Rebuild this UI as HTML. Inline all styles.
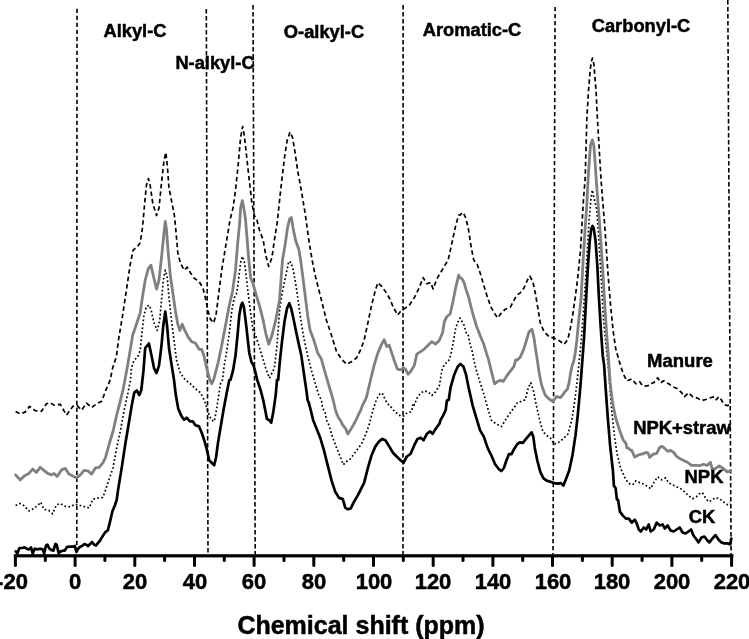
<!DOCTYPE html><html><head><meta charset="utf-8"><style>
html,body{margin:0;padding:0;background:#fff}
body{width:749px;height:639px;position:relative;overflow:hidden;font-family:"Liberation Sans",sans-serif;font-weight:bold;color:#000}
.t{position:absolute;white-space:nowrap;line-height:1;will-change:transform;-webkit-text-stroke:0.5px #000}
</style></head><body>
<svg width="749" height="639" viewBox="0 0 749 639" style="position:absolute;left:0;top:0">
<line x1="77.0" y1="8.7" x2="76.8" y2="554" stroke="#000" stroke-width="1.6" stroke-dasharray="4.4 2.6"/>
<line x1="206.3" y1="9.1" x2="208.0" y2="554" stroke="#000" stroke-width="1.6" stroke-dasharray="4.4 2.6"/>
<line x1="253.0" y1="5.1" x2="255.2" y2="554" stroke="#000" stroke-width="1.6" stroke-dasharray="4.4 2.6"/>
<line x1="403.1" y1="5.1" x2="403.0" y2="554" stroke="#000" stroke-width="1.6" stroke-dasharray="4.4 2.6"/>
<line x1="555.1" y1="6.9" x2="553.0" y2="554" stroke="#000" stroke-width="1.6" stroke-dasharray="4.4 2.6"/>
<line x1="727.8" y1="0.0" x2="731.1" y2="554" stroke="#000" stroke-width="1.6" stroke-dasharray="4.4 2.6"/>
<path d="M15.6 411.4 L20.1 413.9 L25.1 412.1 L29.6 406.4 L35.1 410.6 L41.4 411.4 L46.4 403.8 L50.2 402.6 L54.0 405.1 L60.2 404.3 L66.5 415.1 L72.8 406.4 L76.6 405.1 L81.6 410.1 L86.6 403.1 L91.6 407.6 L96.6 403.8 L101.7 401.3 L105.4 391.3 L110.2 379.9 L112.6 368.1 L116.3 356.8 L118.8 338.0 L122.6 315.4 L126.4 290.3 L130.1 265.2 L133.1 250.1 L137.7 246.4 L140.2 242.6 L142.2 230.0 L143.2 219.9 L144.7 203.1 L146.4 185.5 L148.4 178.5 L150.2 185.5 L152.7 203.1 L156.5 215.6 L159.0 208.1 L161.5 183.0 L164.0 160.4 L165.8 152.4 L167.3 165.4 L169.0 188.0 L171.5 200.6 L174.4 215.3 L175.6 227.5 L177.8 252.6 L180.3 262.7 L184.1 270.2 L187.3 267.2 L190.4 272.7 L194.1 278.2 L199.1 281.5 L202.9 287.8 L205.4 297.8 L207.9 310.4 L210.4 319.1 L213.5 322.9 L216.0 315.4 L218.5 295.3 L221.7 270.2 L225.0 250.1 L228.0 232.6 L230.0 219.9 L233.0 208.1 L235.5 190.5 L238.1 165.4 L240.6 137.8 L242.6 126.5 L244.3 135.3 L246.8 157.9 L249.3 180.5 L251.9 203.1 L254.4 215.6 L256.9 219.9 L259.4 230.0 L263.2 240.1 L265.7 255.1 L268.7 266.4 L271.9 257.7 L274.4 240.1 L277.4 221.2 L279.8 198.0 L282.2 176.7 L284.8 155.3 L287.2 140.2 L290.0 132.1 L292.6 137.7 L295.1 152.7 L297.6 170.3 L301.3 190.4 L305.1 213.0 L308.9 240.6 L312.1 259.9 L315.1 275.1 L318.9 290.1 L322.7 305.2 L326.4 320.2 L331.5 335.3 L336.5 351.6 L341.5 359.1 L346.5 364.2 L351.5 361.7 L356.6 357.9 L360.3 350.4 L364.1 340.3 L367.9 322.8 L371.6 305.2 L375.4 290.1 L377.9 282.6 L381.7 286.4 L385.4 291.4 L389.2 297.7 L393.0 306.4 L397.5 315.2 L400.5 311.5 L404.2 308.9 L409.3 305.2 L414.3 297.7 L419.3 287.6 L423.1 277.6 L426.8 283.8 L430.6 282.6 L433.1 288.9 L436.9 278.8 L440.6 272.6 L444.4 266.3 L448.2 259.9 L451.9 243.1 L455.7 225.5 L458.7 215.0 L460.0 215.1 L462.7 212.4 L463.8 213.8 L466.0 218.4 L468.4 229.1 L471.3 247.7 L473.8 260.2 L477.1 264.0 L480.1 272.8 L483.8 285.3 L487.6 297.9 L491.4 307.9 L495.1 314.2 L497.7 318.0 L501.4 313.0 L505.2 309.2 L510.2 307.4 L514.0 300.4 L516.5 295.4 L520.2 292.9 L524.0 287.9 L527.3 280.3 L529.8 276.1 L532.8 281.6 L535.3 292.9 L537.8 307.9 L540.3 323.0 L544.1 331.8 L549.1 336.8 L554.1 338.1 L559.1 340.6 L564.2 344.3 L567.9 339.3 L570.4 328.0 L573.0 313.0 L575.5 295.4 L578.0 275.3 L580.5 250.2 L583.4 200.3 L585.2 177.7 L586.8 120.3 L588.5 90.2 L590.5 67.6 L591.5 61.3 L592.5 58.1 L593.9 64.4 L596.0 90.2 L597.5 120.3 L599.3 150.4 L601.1 180.6 L602.6 199.9 L604.3 220.1 L606.1 245.2 L608.1 275.3 L610.6 305.4 L613.1 330.5 L615.6 348.1 L619.1 360.9 L623.0 373.2 L626.9 381.0 L631.8 378.9 L635.8 383.8 L637.0 382.7 L639.8 381.8 L642.0 385.2 L644.8 386.2 L648.0 385.7 L649.7 383.8 L653.7 382.8 L657.7 377.8 L660.7 382.8 L663.7 380.8 L668.6 383.8 L672.6 386.7 L677.6 388.7 L681.6 392.7 L684.5 396.7 L688.5 392.7 L692.5 396.7 L697.5 398.1 L701.5 400.7 L706.4 399.3 L710.4 397.7 L714.4 396.7 L716.4 399.7 L718.8 396.7 L721.3 399.7 L724.3 404.7 L727.3 405.6 L730.3 404.7" fill="none" stroke="#000" stroke-width="1.7" stroke-dasharray="4.5 3" stroke-linejoin="round"/>
<path d="M15.6 505.5 L20.1 503.5 L23.8 505.5 L28.9 511.0 L33.9 508.5 L37.7 505.5 L40.7 502.2 L43.9 509.3 L48.9 510.5 L52.7 513.8 L56.5 504.7 L60.2 503.7 L65.3 506.3 L70.3 506.8 L75.3 504.2 L80.3 505.5 L85.3 506.8 L89.1 508.0 L92.9 499.2 L97.9 498.0 L102.9 497.5 L105.4 490.4 L109.2 479.1 L113.0 467.9 L116.7 447.8 L120.5 430.2 L124.2 410.1 L128.0 392.6 L130.5 380.0 L131.4 368.1 L133.9 360.6 L137.7 356.8 L140.2 350.5 L142.2 330.4 L143.9 315.4 L146.4 306.6 L149.4 305.3 L151.5 311.6 L154.0 322.9 L157.2 330.4 L159.7 320.4 L161.5 300.3 L163.3 280.2 L165.3 270.2 L167.3 277.7 L169.0 297.8 L171.5 320.4 L174.0 340.5 L176.6 360.6 L180.3 373.1 L185.3 379.9 L190.4 383.8 L195.4 388.8 L200.4 392.6 L204.2 400.1 L206.7 407.6 L209.2 415.1 L211.7 420.2 L214.2 421.4 L216.0 412.6 L218.0 400.1 L220.5 383.7 L222.5 380.0 L224.2 365.6 L226.8 350.5 L229.3 333.0 L231.8 310.4 L234.3 297.8 L236.8 292.8 L238.8 277.7 L240.6 262.7 L242.6 256.4 L244.3 261.4 L246.1 275.2 L248.1 292.8 L250.6 312.9 L253.1 330.4 L255.6 335.5 L258.1 343.0 L261.9 355.5 L265.7 368.1 L269.4 378.1 L274.4 368.1 L277.0 345.5 L279.8 307.8 L282.2 292.7 L285.4 277.6 L288.8 261.3 L291.3 262.5 L293.8 272.6 L296.3 287.6 L298.8 305.2 L301.3 322.8 L303.8 337.8 L307.6 355.4 L311.4 370.4 L315.1 383.0 L318.9 395.5 L321.4 400.0 L322.7 408.1 L325.2 412.6 L326.4 419.9 L328.9 425.1 L332.7 437.7 L336.5 447.7 L340.2 456.5 L343.3 464.8 L346.5 461.5 L350.3 459.0 L354.0 454.0 L357.8 448.9 L361.6 443.9 L365.3 435.1 L369.1 425.1 L370.4 419.9 L372.9 410.4 L376.6 399.1 L380.4 393.0 L382.9 394.3 L385.4 400.3 L389.2 405.6 L390.4 406.3 L393.0 409.3 L395.5 412.6 L396.7 413.1 L400.5 416.0 L403.9 416.0 L406.8 413.1 L408.0 412.6 L410.5 411.9 L411.8 411.3 L413.0 403.1 L414.3 405.0 L416.8 398.4 L420.6 393.0 L424.3 391.0 L428.1 391.8 L431.9 395.5 L435.6 391.8 L439.4 385.5 L441.9 370.4 L444.4 364.2 L448.2 361.7 L450.7 355.4 L453.2 342.8 L455.7 327.8 L458.7 320.2 L460.0 318.0 L462.0 321.5 L464.1 325.4 L466.3 333.0 L468.0 334.0 L470.0 344.1 L472.6 352.6 L473.8 359.9 L476.3 370.1 L480.1 382.7 L483.8 394.0 L487.6 407.8 L491.4 420.3 L496.4 424.1 L501.4 426.6 L505.2 420.3 L510.2 412.8 L514.0 407.8 L517.7 402.2 L521.5 401.5 L525.3 399.7 L528.3 387.7 L530.8 382.7 L533.3 390.2 L535.8 402.8 L539.1 417.8 L542.8 431.6 L546.6 435.4 L550.4 437.9 L554.1 444.2 L557.9 442.9 L562.9 439.1 L567.9 434.1 L571.7 420.3 L574.2 405.3 L576.7 385.2 L579.2 361.2 L581.5 337.8 L583.5 310.4 L585.5 280.3 L587.3 250.2 L588.8 225.1 L590.8 200.3 L592.3 190.1 L593.5 195.6 L596.8 210.0 L598.6 235.1 L600.1 260.2 L601.8 290.4 L603.6 320.5 L606.0 345.3 L608.1 365.1 L610.1 390.2 L611.9 412.8 L614.4 435.4 L616.9 453.0 L620.6 468.0 L624.4 476.8 L628.2 483.1 L631.8 484.8 L633.2 484.3 L635.8 480.8 L638.2 481.8 L639.8 482.8 L643.5 484.0 L647.9 486.6 L650.7 488.7 L653.7 482.8 L657.7 476.8 L661.7 479.8 L665.6 477.8 L668.6 482.8 L672.6 484.8 L676.6 486.7 L680.6 488.7 L684.5 491.7 L688.5 495.7 L692.5 498.7 L696.5 496.7 L699.5 493.7 L702.4 492.7 L705.4 497.7 L708.4 501.7 L711.4 500.7 L715.4 497.7 L719.4 498.7 L723.3 501.7 L727.3 504.7 L730.3 502.7" fill="none" stroke="#000" stroke-width="1.7" stroke-dasharray="1.7 2.3" stroke-linejoin="round"/>
<path d="M15.6 474.9 L20.1 479.9 L25.1 475.4 L28.9 473.4 L32.6 469.1 L36.4 472.4 L40.2 467.3 L43.9 470.4 L47.7 473.4 L51.5 474.9 L54.0 473.4 L57.2 476.6 L61.5 469.9 L65.3 468.4 L69.0 474.1 L72.8 475.9 L76.6 477.9 L80.3 474.9 L84.1 470.4 L87.9 470.9 L91.6 474.1 L95.4 467.9 L99.1 467.3 L102.9 462.8 L105.4 457.8 L109.2 444.0 L113.0 431.5 L116.7 415.1 L120.5 400.1 L123.0 390.0 L124.9 379.9 L127.6 365.6 L130.1 350.5 L132.6 335.5 L136.4 324.2 L140.2 312.9 L142.7 295.3 L145.2 280.2 L148.2 268.9 L151.0 265.2 L153.2 275.2 L156.5 289.0 L159.0 280.2 L161.5 257.7 L164.0 232.6 L165.3 221.3 L166.5 230.0 L167.8 247.6 L170.3 275.2 L172.8 292.8 L175.3 310.4 L177.8 324.2 L179.8 330.4 L182.3 324.2 L184.8 330.4 L187.9 336.7 L191.6 341.7 L195.4 343.0 L199.1 349.3 L201.7 349.3 L204.2 356.8 L206.7 368.1 L209.6 379.1 L211.7 383.8 L213.8 379.1 L218.0 363.1 L221.7 345.5 L225.5 325.4 L229.3 305.3 L232.5 291.5 L235.5 270.2 L237.5 245.1 L239.7 222.5 L240.6 208.1 L242.3 200.6 L243.8 208.1 L245.6 220.0 L246.8 235.1 L248.6 257.7 L250.6 277.7 L253.1 284.0 L255.6 292.8 L259.4 305.3 L263.2 320.4 L265.7 333.0 L268.7 344.2 L271.9 335.5 L275.7 320.4 L279.5 300.3 L282.5 259.9 L285.0 245.6 L287.5 228.0 L289.5 219.2 L291.3 217.5 L293.1 228.0 L295.6 240.6 L298.8 249.3 L300.6 259.9 L302.6 275.1 L305.1 295.1 L307.6 315.2 L310.1 330.3 L313.9 340.3 L317.7 352.9 L321.4 359.1 L325.2 373.0 L328.9 385.5 L332.9 399.1 L335.2 408.8 L336.5 413.1 L339.0 418.8 L340.2 419.9 L342.8 425.1 L345.8 428.9 L347.8 433.9 L350.3 430.1 L353.3 425.1 L356.6 418.8 L359.1 413.1 L360.3 411.3 L362.8 404.6 L365.3 400.0 L366.6 396.8 L370.4 380.5 L374.1 365.4 L377.9 352.9 L381.7 344.1 L384.2 339.8 L386.7 346.6 L389.2 345.3 L391.7 352.9 L394.2 360.4 L397.5 369.2 L400.5 369.9 L403.5 367.9 L405.5 369.2 L408.0 374.2 L410.5 371.7 L414.3 365.4 L416.8 354.1 L420.6 351.6 L424.3 349.1 L428.1 345.3 L431.9 341.6 L435.6 344.1 L439.4 340.3 L442.6 332.8 L444.4 321.5 L446.9 316.5 L450.2 314.0 L453.2 300.2 L455.7 287.6 L458.7 275.1 L460.0 277.8 L462.0 278.8 L464.1 282.7 L466.3 290.4 L468.4 296.5 L472.6 313.0 L476.3 325.5 L480.1 335.5 L483.8 344.3 L486.4 353.1 L488.5 359.4 L491.4 371.4 L494.6 383.9 L497.7 381.4 L500.7 380.2 L503.2 381.4 L506.4 376.4 L510.2 371.4 L514.0 366.4 L515.7 359.9 L517.2 360.1 L520.2 357.2 L523.6 349.6 L526.1 341.6 L529.0 331.8 L532.0 329.3 L534.0 338.1 L535.8 350.6 L537.3 359.9 L539.1 372.6 L541.6 385.2 L545.3 395.2 L549.1 399.0 L552.9 401.5 L556.6 396.5 L560.4 397.7 L563.4 394.0 L565.0 391.5 L567.4 389.2 L569.0 382.9 L570.5 373.6 L572.1 365.7 L573.6 361.8 L575.2 353.2 L576.8 340.7 L578.3 325.0 L579.9 309.4 L581.0 300.0 L583.0 262.8 L585.0 230.1 L586.8 205.0 L588.0 180.6 L589.3 160.5 L590.5 145.4 L592.3 139.9 L593.8 145.4 L595.0 160.5 L596.3 180.6 L599.3 220.1 L601.1 245.2 L603.1 275.3 L604.8 305.4 L606.8 335.5 L608.6 359.9 L610.1 382.7 L612.6 402.8 L615.6 417.8 L619.6 430.2 L623.0 439.6 L625.9 443.4 L626.9 447.9 L628.8 448.4 L630.7 450.4 L631.8 450.4 L634.6 457.0 L638.5 454.9 L642.4 453.8 L646.7 452.4 L648.0 453.0 L649.7 457.4 L652.7 454.4 L656.7 453.4 L659.7 447.4 L662.1 446.4 L664.7 448.4 L667.6 451.4 L670.6 450.4 L673.6 452.4 L676.6 456.4 L679.6 458.4 L683.6 460.4 L687.5 462.3 L691.5 465.3 L695.5 465.3 L699.5 465.7 L703.4 464.3 L707.4 465.3 L710.4 462.3 L712.4 469.8 L716.4 467.9 L719.4 465.9 L722.3 467.9 L724.9 469.8 L727.3 471.8 L730.3 470.8" fill="none" stroke="#808080" stroke-width="2.8" stroke-linejoin="round" stroke-linecap="round"/>
<path d="M15.8 551.4 L17.4 553.4 L19.4 548.0 L22.0 548.0 L24.7 547.4 L26.7 548.7 L28.7 549.4 L31.0 547.4 L32.7 553.4 L34.7 548.7 L37.4 549.4 L40.1 548.7 L42.7 549.4 L44.1 553.4 L46.1 545.4 L47.4 544.7 L49.4 548.7 L51.4 550.0 L53.4 550.7 L55.4 544.0 L56.7 544.7 L58.7 553.4 L60.7 551.4 L62.8 550.7 L64.8 550.7 L66.8 547.1 L69.4 546.7 L72.8 546.7 L74.8 546.0 L76.4 552.0 L78.1 548.7 L80.1 546.7 L82.1 546.0 L84.4 544.0 L86.1 544.7 L88.1 546.0 L90.1 544.0 L92.1 542.0 L94.1 544.7 L96.1 545.4 L98.1 542.7 L100.0 540.7 L101.7 537.7 L104.9 532.6 L107.9 530.1 L110.4 520.1 L112.4 511.3 L115.0 505.0 L116.7 500.0 L118.0 490.4 L121.7 467.9 L125.5 442.8 L129.3 420.2 L131.8 405.1 L134.3 392.6 L136.8 390.5 L139.3 395.1 L141.3 390.0 L143.5 370.3 L145.2 348.0 L148.9 343.5 L151.5 355.5 L154.0 368.1 L156.5 373.1 L159.0 365.6 L161.5 345.5 L163.3 325.4 L165.3 311.6 L167.0 325.4 L169.0 348.0 L171.5 364.3 L174.0 379.9 L175.8 395.1 L178.3 408.9 L181.6 416.4 L184.1 419.7 L186.6 417.7 L189.9 421.4 L192.9 421.4 L195.4 425.2 L199.1 426.4 L201.7 432.7 L204.2 440.2 L206.7 449.0 L209.2 460.3 L211.7 462.8 L214.2 465.3 L216.0 457.8 L218.0 442.8 L220.5 427.7 L223.5 410.1 L226.8 392.6 L229.3 380.0 L230.5 379.9 L233.0 370.6 L235.5 355.5 L237.5 335.5 L239.3 315.4 L241.1 305.3 L242.3 302.8 L243.8 306.6 L245.6 320.4 L247.6 338.0 L249.3 353.0 L251.4 361.8 L253.6 365.6 L255.6 373.1 L257.2 379.9 L260.6 390.0 L263.2 400.1 L265.7 412.6 L266.9 418.9 L269.4 420.2 L271.2 422.7 L273.2 412.6 L275.7 395.1 L277.0 379.9 L278.2 380.0 L279.8 361.8 L282.0 341.6 L284.5 321.6 L287.0 308.4 L289.3 303.2 L291.3 308.9 L293.8 320.2 L296.3 332.8 L298.8 344.1 L301.3 355.4 L303.8 373.0 L306.4 390.5 L307.6 400.0 L308.9 403.1 L311.4 412.9 L313.1 419.9 L315.1 425.1 L320.2 437.7 L323.9 450.2 L327.7 465.3 L331.5 480.3 L335.2 491.6 L339.0 497.9 L342.8 499.1 L345.3 507.9 L347.8 509.2 L350.8 508.4 L354.0 501.7 L357.8 495.4 L360.3 490.4 L364.1 482.8 L367.9 467.8 L371.6 455.2 L375.4 446.4 L379.1 441.4 L382.4 438.9 L385.4 440.2 L389.2 446.4 L393.0 452.7 L396.7 456.5 L400.5 460.2 L403.5 462.8 L406.8 456.5 L410.5 454.0 L414.3 445.2 L417.5 438.9 L420.6 437.7 L423.6 440.2 L426.8 433.9 L430.1 431.4 L432.6 433.9 L435.6 428.9 L439.4 423.8 L440.6 419.9 L443.2 415.4 L445.7 410.0 L446.9 400.6 L448.7 400.0 L450.7 386.8 L454.4 374.2 L457.7 366.7 L460.4 364.0 L463.4 366.5 L465.9 374.1 L468.4 386.6 L472.6 405.3 L476.3 417.8 L480.1 430.4 L483.8 436.6 L487.6 447.9 L491.4 455.5 L495.1 464.2 L498.9 469.3 L501.4 471.0 L503.9 468.0 L506.4 460.5 L508.9 454.2 L511.5 454.2 L514.0 449.2 L517.2 444.2 L519.7 442.4 L522.8 442.9 L525.8 439.1 L529.0 435.4 L531.5 432.4 L533.3 436.6 L534.8 447.9 L537.3 460.5 L540.3 471.8 L543.3 478.1 L546.6 480.6 L550.4 481.8 L554.1 483.1 L557.9 483.6 L560.9 483.1 L563.4 485.6 L565.9 479.3 L569.2 470.5 L572.4 455.5 L575.5 435.4 L578.0 412.8 L580.5 385.2 L582.4 360.0 L584.2 335.2 L586.3 295.4 L588.0 265.3 L589.8 240.2 L591.3 228.9 L592.5 225.9 L593.8 228.9 L595.5 240.2 L597.3 265.3 L598.8 295.4 L600.6 325.5 L602.7 355.2 L604.1 365.1 L605.8 390.2 L607.8 417.8 L610.1 445.4 L612.9 470.5 L613.9 485.8 L615.6 488.1 L616.9 499.7 L618.1 499.9 L619.9 511.6 L622.9 515.6 L625.9 518.6 L628.8 518.6 L631.8 522.6 L634.8 519.6 L636.8 523.6 L638.8 529.5 L640.8 531.5 L643.8 527.5 L646.2 529.5 L648.7 524.5 L650.7 531.5 L653.7 529.5 L656.7 522.6 L659.7 525.5 L662.7 524.5 L664.7 528.5 L667.6 525.5 L670.6 530.5 L673.6 531.5 L676.6 529.5 L679.6 527.5 L682.6 532.5 L685.5 533.5 L688.5 531.5 L691.1 529.5 L693.5 535.5 L696.5 539.5 L698.5 542.4 L701.5 537.5 L704.4 536.5 L707.4 540.5 L709.4 542.4 L712.4 538.5 L715.4 535.1 L718.4 539.5 L721.3 542.4 L724.3 543.4 L727.3 543.4 L730.3 544.4 L731.3 538.5" fill="none" stroke="#000" stroke-width="2.7" stroke-linejoin="round" stroke-linecap="round"/>
<rect x="13.8" y="554.2" width="719.6" height="3.2" fill="#000"/>
<line x1="15.4" y1="556" x2="15.4" y2="565.6" stroke="#000" stroke-width="3" stroke-linecap="round"/>
<line x1="45.3" y1="556" x2="45.3" y2="560.6" stroke="#000" stroke-width="3" stroke-linecap="round"/>
<line x1="75.1" y1="556" x2="75.1" y2="565.6" stroke="#000" stroke-width="3" stroke-linecap="round"/>
<line x1="104.9" y1="556" x2="104.9" y2="560.6" stroke="#000" stroke-width="3" stroke-linecap="round"/>
<line x1="134.8" y1="556" x2="134.8" y2="565.6" stroke="#000" stroke-width="3" stroke-linecap="round"/>
<line x1="164.6" y1="556" x2="164.6" y2="560.6" stroke="#000" stroke-width="3" stroke-linecap="round"/>
<line x1="194.5" y1="556" x2="194.5" y2="565.6" stroke="#000" stroke-width="3" stroke-linecap="round"/>
<line x1="224.3" y1="556" x2="224.3" y2="560.6" stroke="#000" stroke-width="3" stroke-linecap="round"/>
<line x1="254.1" y1="556" x2="254.1" y2="565.6" stroke="#000" stroke-width="3" stroke-linecap="round"/>
<line x1="284.0" y1="556" x2="284.0" y2="560.6" stroke="#000" stroke-width="3" stroke-linecap="round"/>
<line x1="313.8" y1="556" x2="313.8" y2="565.6" stroke="#000" stroke-width="3" stroke-linecap="round"/>
<line x1="343.7" y1="556" x2="343.7" y2="560.6" stroke="#000" stroke-width="3" stroke-linecap="round"/>
<line x1="373.5" y1="556" x2="373.5" y2="565.6" stroke="#000" stroke-width="3" stroke-linecap="round"/>
<line x1="403.3" y1="556" x2="403.3" y2="560.6" stroke="#000" stroke-width="3" stroke-linecap="round"/>
<line x1="433.2" y1="556" x2="433.2" y2="565.6" stroke="#000" stroke-width="3" stroke-linecap="round"/>
<line x1="463.0" y1="556" x2="463.0" y2="560.6" stroke="#000" stroke-width="3" stroke-linecap="round"/>
<line x1="492.9" y1="556" x2="492.9" y2="565.6" stroke="#000" stroke-width="3" stroke-linecap="round"/>
<line x1="522.7" y1="556" x2="522.7" y2="560.6" stroke="#000" stroke-width="3" stroke-linecap="round"/>
<line x1="552.5" y1="556" x2="552.5" y2="565.6" stroke="#000" stroke-width="3" stroke-linecap="round"/>
<line x1="582.4" y1="556" x2="582.4" y2="560.6" stroke="#000" stroke-width="3" stroke-linecap="round"/>
<line x1="612.2" y1="556" x2="612.2" y2="565.6" stroke="#000" stroke-width="3" stroke-linecap="round"/>
<line x1="642.1" y1="556" x2="642.1" y2="560.6" stroke="#000" stroke-width="3" stroke-linecap="round"/>
<line x1="671.9" y1="556" x2="671.9" y2="565.6" stroke="#000" stroke-width="3" stroke-linecap="round"/>
<line x1="701.7" y1="556" x2="701.7" y2="560.6" stroke="#000" stroke-width="3" stroke-linecap="round"/>
<line x1="731.6" y1="556" x2="731.6" y2="565.6" stroke="#000" stroke-width="3" stroke-linecap="round"/>
</svg>
<div class="t" style="left:134.7px;top:21.7px;font-size:18.3px;transform:translateX(-50%)">Alkyl-C</div>
<div class="t" style="left:214.9px;top:53.7px;font-size:18.3px;transform:translateX(-50%)">N-alkyl-C</div>
<div class="t" style="left:323.9px;top:23.0px;font-size:18.3px;transform:translateX(-50%)">O-alkyl-C</div>
<div class="t" style="left:471.6px;top:21.0px;font-size:18.3px;transform:translateX(-50%)">Aromatic-C</div>
<div class="t" style="left:640.7px;top:16.9px;font-size:18.3px;transform:translateX(-50%)">Carbonyl-C</div>
<div class="t" style="left:679.8px;top:351.6px;font-size:18.5px;transform:translateX(-50%)">Manure</div>
<div class="t" style="left:681.8px;top:418.9px;font-size:18.4px;transform:translateX(-50%)">NPK+straw</div>
<div class="t" style="left:704.4px;top:468.3px;font-size:18.4px;transform:translateX(-50%)">NPK</div>
<div class="t" style="left:702.2px;top:507.7px;font-size:18.4px;transform:translateX(-50%)">CK</div>
<div class="t" style="left:360.8px;top:613.0px;font-size:25.0px;transform:translateX(-50%)">Chemical shift (ppm)</div>
<div class="t" style="left:11.9px;top:571.3px;font-size:22.0px;transform:translateX(-50%)">-20</div>
<div class="t" style="left:75.1px;top:571.3px;font-size:22.0px;transform:translateX(-50%)">0</div>
<div class="t" style="left:134.8px;top:571.3px;font-size:22.0px;transform:translateX(-50%)">20</div>
<div class="t" style="left:194.5px;top:571.3px;font-size:22.0px;transform:translateX(-50%)">40</div>
<div class="t" style="left:254.1px;top:571.3px;font-size:22.0px;transform:translateX(-50%)">60</div>
<div class="t" style="left:313.8px;top:571.3px;font-size:22.0px;transform:translateX(-50%)">80</div>
<div class="t" style="left:373.5px;top:571.3px;font-size:22.0px;transform:translateX(-50%)">100</div>
<div class="t" style="left:433.2px;top:571.3px;font-size:22.0px;transform:translateX(-50%)">120</div>
<div class="t" style="left:492.9px;top:571.3px;font-size:22.0px;transform:translateX(-50%)">140</div>
<div class="t" style="left:552.5px;top:571.3px;font-size:22.0px;transform:translateX(-50%)">160</div>
<div class="t" style="left:612.2px;top:571.3px;font-size:22.0px;transform:translateX(-50%)">180</div>
<div class="t" style="left:671.9px;top:571.3px;font-size:22.0px;transform:translateX(-50%)">200</div>
<div class="t" style="left:731.6px;top:571.3px;font-size:22.0px;transform:translateX(-50%)">220</div>
</body></html>
